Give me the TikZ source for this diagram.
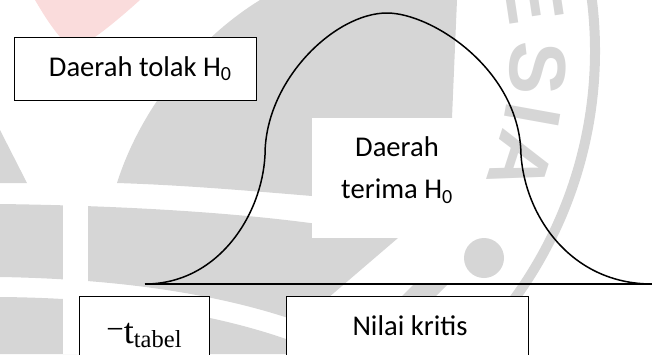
\documentclass[tikz,border=0pt]{standalone}
\usepackage{fontspec}
\setmainfont{Carlito}
\newfontfamily\timesfont{Liberation Serif}
\newfontfamily\wmfont{Liberation Sans}
\definecolor{wm}{HTML}{D6D6D6}
\definecolor{wmpink}{HTML}{FADCDC}
\tikzset{
  box/.style={draw=black, line width=1, fill=white, inner xsep=0},
  curveline/.style={draw=black, line width=1.5},
  calfont/.style={font=\fontsize{28.6}{42}\selectfont},
  wmletter/.style={text=wm, inner sep=0, font=\wmfont\bfseries\fontsize{80}{80}\selectfont}
}
\begin{document}
\begin{tikzpicture}[x=1pt,y=-1pt]
\useasboundingbox (0,0) rectangle (652,354);
\clip (0,0) rectangle (652,354);
% ---- faint watermark ----
\fill[wmpink] (35,0) -- (140,0) .. controls (120,18) and (105,30) .. (95,37) -- (60,37) .. controls (50,25) and (42,12) .. (35,0) -- cycle;
\fill[wm] (117,183) .. controls (140,110) and (195,40) .. (260,0) -- (457,0) -- (452,118) -- (312,118) -- (312,196) .. controls (240,190) and (180,185) .. (117,183) -- cycle;
\fill[wm] (0,130) -- (27,183) -- (0,183) -- cycle;
\fill[wm] (0,204) .. controls (150,206) and (300,216) .. (398,238) -- (300,322) .. controls (220,294) and (120,279) .. (0,277) -- cycle;
\fill[wm] (0,297) .. controls (120,298) and (220,314) .. (300,344) -- (300,354) -- (0,354) -- cycle;
\fill[wm] (398,300) -- (414,284) -- (448,284) -- (432,300) -- cycle;
\fill[white] (63,195) rectangle (88,354);
\fill[white] (312,118) rectangle (453,238);
\draw[wm, line width=10] (174,51) ++(-12:421) arc[start angle=-12, end angle=50, radius=421];
\fill[wm] (484,258) circle[radius=20];
\foreach \a/\l in {-8.5/E, 2.7/S, 10.2/I, 17.8/A}
  \path (174,51) ++(\a:364) node[wmletter, rotate={-90-(\a)}] (wm\l) {\l};
% ---- diagram ----
\coordinate (L) at (145,284);
\coordinate (R) at (652,284);
\draw[curveline] (L) -- (R);
\draw[curveline] (L) .. controls (218,284) and (262,215) .. (265,155)
  .. controls (265,80) and (335,13) .. (387,13)
  .. controls (432,13) and (520,70) .. (521,155)
  .. controls (525,215) and (570,284) .. (R);
\node[box, calfont, minimum width=241.5, minimum height=62.5, inner ysep=0] (tolak) at (135.25,68.75) {\hspace*{10pt}Daerah tolak H\textsubscript{0}};
\node[calfont, align=center, inner sep=0] (terima) at (397,170) {Daerah\\terima H\textsubscript{0}};
\node[box, calfont, anchor=north, minimum width=242, minimum height=84, inner ysep=18, text height=21, text depth=27] (nilai) at (407,296) {\hspace*{6pt}Nilai kritis};
\node[box, anchor=north, minimum width=130, minimum height=84, inner ysep=18, text height=29, text depth=19, font=\timesfont\fontsize{36}{40}\selectfont] (ttabel) at (144,296) {\raisebox{4.5pt}{\fontsize{31}{31}\selectfont −}t\raisebox{-4.4pt}{\fontsize{24.5}{24.5}\selectfont tabel}};
\end{tikzpicture}
\end{document}
